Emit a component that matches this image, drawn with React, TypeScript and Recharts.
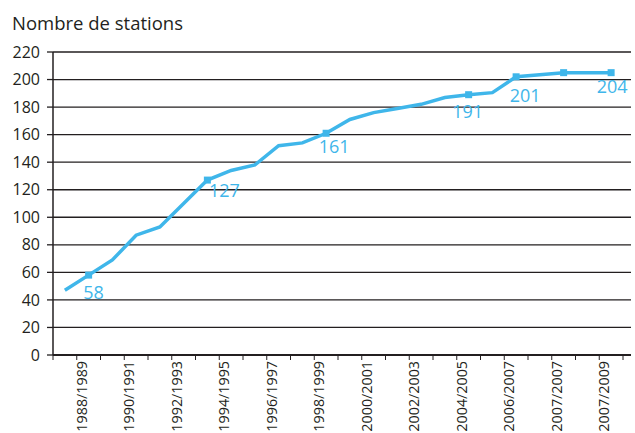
import React from 'react';
import { LineChart, Line, XAxis, YAxis, CartesianGrid } from 'recharts';

const seasons = [
    '1987/1988', '1988/1989', '1989/1990', '1990/1991', '1991/1992', '1992/1993',
    '1993/1994', '1994/1995', '1995/1996', '1996/1997', '1997/1998', '1998/1999',
    '1999/2000', '2000/2001', '2001/2002', '2002/2003', '2003/2004', '2004/2005',
    '2005/2006', '2006/2007', '2007', '2007/2007', '2008', '2007/2009'
];

// null = no point, the line just joins its neighbours
const stations = [
    47, 58, 69, 87, 93, 110,
    127, 134, 138, 152, 154, 161,
    171, 176, 179, 182, 187, 189,
    190.5, 202, null, 205, null, 205
];

const markedPoints = [1, 6, 11, 17, 19, 21, 23];
const dataLabels: Record<number, string> = { 1: '58', 6: '127', 11: '161', 17: '191', 19: '201', 23: '204' };

const yTicks = [0, 20, 40, 60, 80, 100, 120, 140, 160, 180, 200, 220];

const BLUE = '#3fb6ea';
const INK = '#231f20';
const FONT = '"Open Sans", sans-serif';

const PLOT_LEFT = 53;
const PLOT_RIGHT = 631;
const CAT_RIGHT = 623;
const BAND = (CAT_RIGHT - PLOT_LEFT) / seasons.length;

// label placement relative to its marker (dx, baseline dy), as in the original
const labelOffsets: Record<number, [number, number]> = {
    1: [5, 24], 6: [17, 17], 11: [8, 20], 17: [-1, 23], 19: [9, 25], 23: [1, 20]
};

const data = seasons.map((season, i) => ({ season, stations: stations[i] }));

const CategoryTick = (props: any) => {
    const { x, y, index } = props;
    const half = BAND / 2;
    const ty = y + 6;
    return (
        <g>
            <line x1={x - half} x2={x - half} y1={y} y2={y + 5} stroke={INK} strokeWidth={1} />
            {index === seasons.length - 1 && (
                <line x1={x + half} x2={x + half} y1={y} y2={y + 5} stroke={INK} strokeWidth={1} />
            )}
            {index % 2 === 1 && (
                <text
                    x={x}
                    y={ty}
                    dy={-2}
                    transform={`rotate(-90, ${x}, ${ty})`}
                    textAnchor="end"
                    fill={INK}
                    fontSize={14.3}
                    fontFamily={FONT}
                >
                    {seasons[index]}
                </text>
            )}
        </g>
    );
};

const renderDot = (props: any) => {
    const { cx, cy, index } = props;
    if (cx == null || cy == null || !markedPoints.includes(index)) {
        return <g key={`dot-${index}`} />;
    }
    const off = labelOffsets[index];
    return (
        <g key={`dot-${index}`}>
            <rect x={cx - 3.5} y={cy - 3.5} width={7} height={7} fill={BLUE} />
            {dataLabels[index] && (
                <text
                    x={cx + off[0]}
                    y={cy + off[1]}
                    textAnchor="middle"
                    fill={BLUE}
                    fontSize={18}
                    fontFamily={FONT}
                >
                    {dataLabels[index]}
                </text>
            )}
        </g>
    );
};

export default function App() {
    return (
        <div style={{ position: 'absolute', left: 0, top: 0, width: 635, height: 433, background: '#fff' }}>
            <div
                style={{
                    position: 'absolute',
                    left: 12,
                    top: 14,
                    fontFamily: FONT,
                    fontSize: 18.5,
                    lineHeight: '18px',
                    color: INK
                }}
            >
                Nombre de stations
            </div>
            <LineChart
                width={635}
                height={433}
                data={data}
                margin={{ top: 52, right: 635 - PLOT_RIGHT, bottom: 0, left: 0 }}
            >
                <CartesianGrid vertical={false} stroke={INK} strokeWidth={1.3} />
                <XAxis
                    dataKey="season"
                    height={78}
                    interval={0}
                    padding={{ left: BAND / 2, right: PLOT_RIGHT - CAT_RIGHT + BAND / 2 }}
                    axisLine={{ stroke: INK, strokeWidth: 2 }}
                    tickLine={false}
                    tickSize={0}
                    tickMargin={0}
                    tick={<CategoryTick />}
                />
                <YAxis
                    width={PLOT_LEFT}
                    domain={[0, 220]}
                    ticks={yTicks}
                    interval={0}
                    axisLine={{ stroke: INK, strokeWidth: 1.5 }}
                    tickLine={{ stroke: INK, strokeWidth: 1.3 }}
                    tickSize={6}
                    tickMargin={7}
                    tick={{ fill: INK, fontSize: 16, fontFamily: FONT }}
                />
                <Line
                    type="linear"
                    dataKey="stations"
                    stroke={BLUE}
                    strokeWidth={3.5}
                    connectNulls
                    dot={renderDot}
                    activeDot={false}
                    isAnimationActive={false}
                />
            </LineChart>
        </div>
    );
}
